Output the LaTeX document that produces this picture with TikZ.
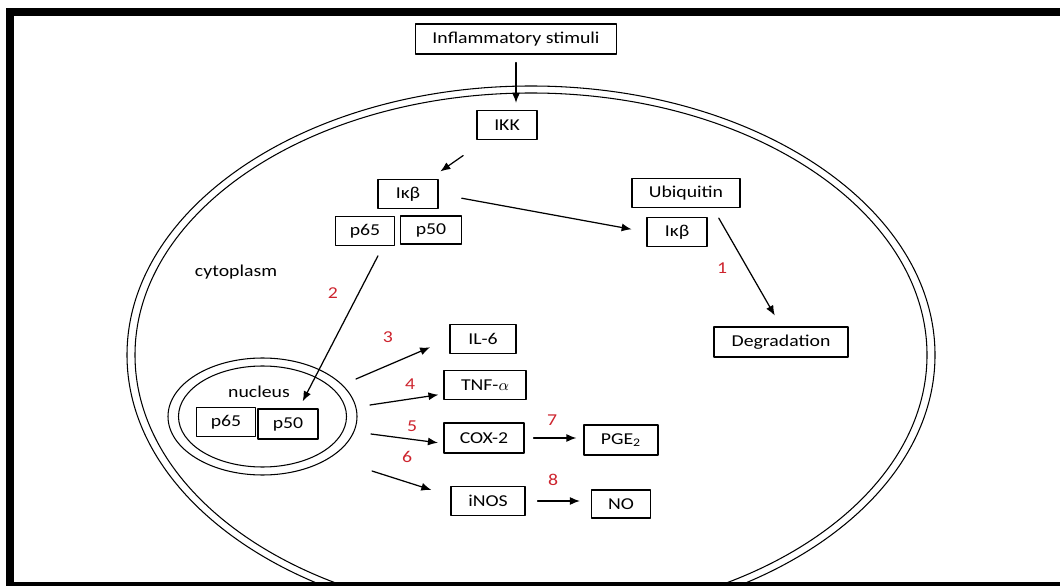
\documentclass[tikz,border=0pt]{standalone}
\usepackage{fontspec}
\setmainfont{Carlito}[FakeStretch=1.19]
\usetikzlibrary{arrows.meta}
\definecolor{stepred}{RGB}{205,35,45}

\begin{document}
\begin{tikzpicture}[line cap=round,line join=round,
    font=\fontsize{9.45}{11}\selectfont,
    box/.style={draw,line width=0.7pt,inner sep=0pt,minimum height=0.58cm},
    arr/.style={line width=0.7pt,-{Latex[length=0.2cm,width=0.16cm]}},
    num/.style={text=stepred,inner sep=1pt},
    wall/.style={line width=0.6pt}]
  \useasboundingbox (0,0) rectangle (21.2,11.72);
  % frame
  \fill (0.12,11.40) rectangle (21.2,11.56);
  \fill (0.12,0) rectangle (0.28,11.56);
  \fill (0.12,0) rectangle (21.2,0.08);
  % cell membrane
  \begin{scope}
    \clip (0.28,0.08) rectangle (21.2,11.40);
    \draw[wall] (10.62,4.62) ellipse [x radius=8.08, y radius=5.38];
    \draw[wall] (10.62,4.62) ellipse [x radius=7.92, y radius=5.24];
  \end{scope}
  % nucleus
  \draw[wall] (5.25,3.39) ellipse [x radius=1.89, y radius=1.17];
  \draw[wall] (5.25,3.39) ellipse [x radius=1.68, y radius=1.01];

  \node[box,minimum width=4.02cm,minimum height=0.6cm] (stim) at (10.32,10.94) {Inflammatory stimuli};
  \node[box,minimum width=1.2cm] (ikk) at (10.14,9.22) {IKK};
  \node[box,minimum width=1.2cm] (ikb) at (8.16,7.84) {Iκβ};
  \node[box,minimum width=1.18cm] (p65c) at (7.30,7.10) {p65};
  \node[box,minimum width=1.22cm,minimum height=0.56cm] (p50c) at (8.62,7.12) {p50};
  \node[box,minimum width=2.16cm] (ubq) at (13.72,7.86) {Ubiquitin};
  \node[box,minimum width=1.2cm] (ikbu) at (13.54,7.08) {Iκβ};
  \node[box,minimum width=2.68cm,minimum height=0.6cm] (degr) at (15.62,4.88) {Degradation};
  \node[box,minimum width=1.18cm] (p65n) at (4.52,3.28) {p65};
  \node[box,minimum width=1.2cm,minimum height=0.6cm] (p50n) at (5.76,3.24) {p50};
  \node[box,minimum width=1.32cm] (il6) at (9.66,4.94) {IL-6};
  \node[box,minimum width=1.64cm] (tnf) at (9.70,4.02) {TNF-$\alpha$};
  \node[box,minimum width=1.6cm,minimum height=0.6cm] (cox) at (9.68,2.96) {COX-2};
  \node[box,minimum width=1.48cm] (inos) at (9.76,1.70) {iNOS};
  \node[box,minimum width=1.48cm,minimum height=0.6cm] (pge) at (12.42,2.92) {PGE\textsubscript{2}};
  \node[box,minimum width=1.18cm,minimum height=0.56cm] (no) at (12.42,1.64) {NO};

  \node (cyto) at (4.72,6.28) {cytoplasm};
  \node (nucl) at (5.18,3.88) {nucleus};
  \node[num] (n1) at (14.44,6.36) {1};
  \node[num] (n2) at (6.66,5.86) {2};
  \node[num] (n3) at (7.76,4.98) {3};
  \node[num] (n4) at (8.20,4.04) {4};
  \node[num] (n5) at (8.24,3.20) {5};
  \node[num] (n6) at (8.14,2.58) {6};
  \node[num] (n7) at (11.04,3.32) {7};
  \node[num] (n8) at (11.06,2.12) {8};

  % arrows out of the nucleus
  \coordinate (s3) at (7.12,4.14);
  \coordinate (s4) at (7.40,3.62);
  \coordinate (s5) at (7.42,3.04);
  \coordinate (s6) at (7.44,2.30);

  \draw[arr,shorten <=0.16cm,shorten >=0.14cm] (stim.south) -- (stim.south |- ikk.north);
  \draw[arr,shorten <=0.54cm,shorten >=0.26cm] (ikk) -- (ikb);
  \draw[arr,shorten <=0.47cm,shorten >=0.30cm] (ikb.east) -- (ikbu.west);
  \draw[arr,shorten <=0.23cm,shorten >=0.25cm] ([xshift=0.54cm]ubq.south) -- (degr.north);
  \draw[arr,shorten <=0.22cm,shorten >=0.16cm] ([xshift=0.36cm]p65c.south) -- ([xshift=0.22cm]p50n.north);
  \draw[arr,shorten >=0.42cm] (s3) -- (il6.west);
  \draw[arr,shorten >=0.10cm] (s4) -- ([yshift=-0.18cm]tnf.west);
  \draw[arr,shorten >=0.11cm] (s5) -- ([yshift=-0.11cm]cox.west);
  \draw[arr,shorten >=0.40cm] (s6) -- ([yshift=0.10cm]inos.west);
  \draw[arr,shorten <=0.18cm,shorten >=0.14cm] (cox.east) -- (cox.east -| pge.west);
  \draw[arr,shorten <=0.24cm,shorten >=0.22cm] (inos.east) -- (inos.east -| no.west);
\end{tikzpicture}
\end{document}
